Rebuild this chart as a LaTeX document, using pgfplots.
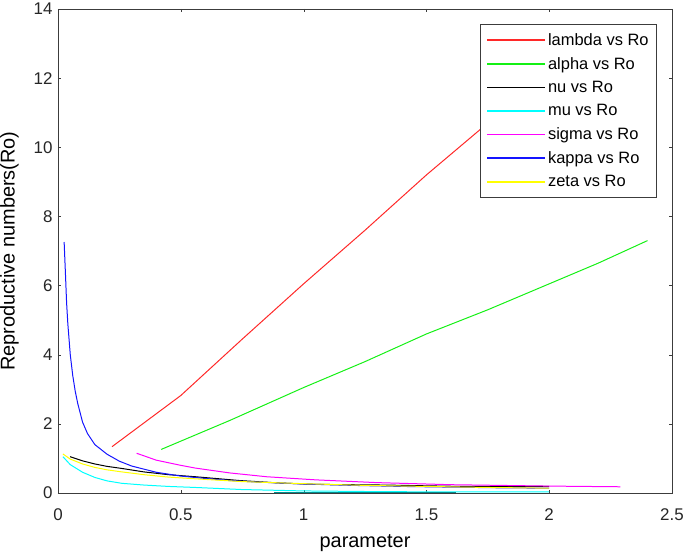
\documentclass[border=0pt]{standalone}
\usepackage{pgfplots}
\pgfplotsset{compat=1.18}
\usepackage{fontspec}
\setmainfont{Liberation Sans}
\definecolor{axgray}{RGB}{60,60,60}
\definecolor{mlteal}{RGB}{0,140,140}
\definecolor{mlred}{RGB}{255,40,40}
\definecolor{mlgreen}{RGB}{20,240,20}
\definecolor{mlcyan}{RGB}{0,255,255}
\definecolor{mlmagenta}{RGB}{255,0,255}
\definecolor{mlblue}{RGB}{20,20,255}
\definecolor{mlyellow}{RGB}{255,255,0}
\begin{document}
\begin{tikzpicture}
\path[use as bounding box] (-58bp,-61bp) rectangle (627bp,493bp);
\begin{axis}[
  scale only axis, width=614bp, height=484bp,
  xmin=0, xmax=2.5, ymin=0, ymax=14,
  xtick={0,0.5,1,1.5,2,2.5}, ytick={0,2,4,6,8,10,12,14},
  xticklabels={0,0.5,1,1.5,2,2.5},
  tick align=inside, tick pos=both, major tick length=3bp,
  axis line style={axgray, line width=0.9pt}, tick style={axgray},
  /pgf/number format/assume math mode=true,
  tick label style={font=\fontsize{17}{19}\selectfont, text=black!85},
  xticklabel style={yshift=-12bp},
  yticklabel style={xshift=-2bp},
  xlabel={parameter}, ylabel={Reproductive numbers(Ro)},
  label style={font=\fontsize{20}{22}\selectfont},
  xlabel style={yshift=-7bp},
  ylabel style={yshift=8bp},
  legend style={at={(1,1)}, xshift=-15bp, yshift=-15bp, anchor=north east,
    draw=axgray, line width=0.9pt, font=\fontsize{16.5}{18}\selectfont,
    row sep=6.5pt, inner xsep=6pt, inner ysep=7pt, cells={anchor=west}},
  legend image code/.code={\draw[line width=1.5pt] (0bp,0bp) -- (58bp,0bp);},
  every axis plot/.append style={line width=1pt},
]
\addplot[mlred] coordinates {(0.22,1.34) (0.5,2.82) (0.75,4.45) (1.0,6.05) (1.25,7.6) (1.5,9.2) (1.75,10.7) (2.0,12.2)};
\addlegendentry{lambda vs Ro}
\addplot[mlgreen] coordinates {(0.42,1.26) (0.7,2.1) (1.0,3.05) (1.25,3.8) (1.5,4.6) (1.75,5.3) (2.0,6.05) (2.2,6.65) (2.4,7.3)};
\addlegendentry{alpha vs Ro}
\addplot[black] coordinates {(0.049,1.05) (0.1,0.93) (0.15,0.84) (0.2,0.77) (0.26,0.71) (0.35,0.61) (0.45,0.53) (0.56,0.47) (0.74,0.36) (0.9,0.29) (1.05,0.25) (1.33,0.23) (1.64,0.19) (2.0,0.19)};
\addlegendentry{nu vs Ro}
\addplot[mlcyan] coordinates {(0.02,1.05) (0.05,0.82) (0.1,0.6) (0.15,0.45) (0.2,0.35) (0.26,0.28) (0.35,0.23) (0.45,0.19) (0.56,0.16) (0.75,0.1) (1.0,0.06) (1.3,0.04) (1.62,0.03) (2.0,0.03)};
\addlegendentry{mu vs Ro}
\addplot[mlmagenta] coordinates {(0.32,1.15) (0.4,0.95) (0.5,0.8) (0.56,0.72) (0.7,0.58) (0.85,0.47) (1.05,0.38) (1.3,0.3) (1.6,0.24) (2.0,0.2) (2.29,0.18)};
\addlegendentry{sigma vs Ro}
\addplot[mlblue] coordinates {(0.025,7.26) (0.03,6.4) (0.035,5.5) (0.04,4.9) (0.05,4.0) (0.06,3.4) (0.07,2.95) (0.08,2.6) (0.1,2.05) (0.12,1.72) (0.15,1.4) (0.2,1.12) (0.25,0.92) (0.3,0.78) (0.4,0.6) (0.5,0.49) (0.6,0.42) (0.7,0.36) (0.8,0.32) (1.0,0.26) (1.2,0.22) (1.4,0.19) (1.6,0.17) (1.8,0.15) (2.0,0.14)};
\addlegendentry{kappa vs Ro}
\addplot[mlyellow] coordinates {(0.02,1.13) (0.05,0.98) (0.1,0.84) (0.15,0.74) (0.2,0.67) (0.26,0.61) (0.35,0.53) (0.45,0.46) (0.56,0.41) (0.75,0.33) (1.0,0.27) (1.25,0.22) (1.5,0.19) (1.75,0.16) (2.0,0.14)};
\addlegendentry{zeta vs Ro}
\addplot[mlteal, forget plot] coordinates {(0.88,0.025) (1.62,0.025)};
\end{axis}
\end{tikzpicture}
\end{document}
